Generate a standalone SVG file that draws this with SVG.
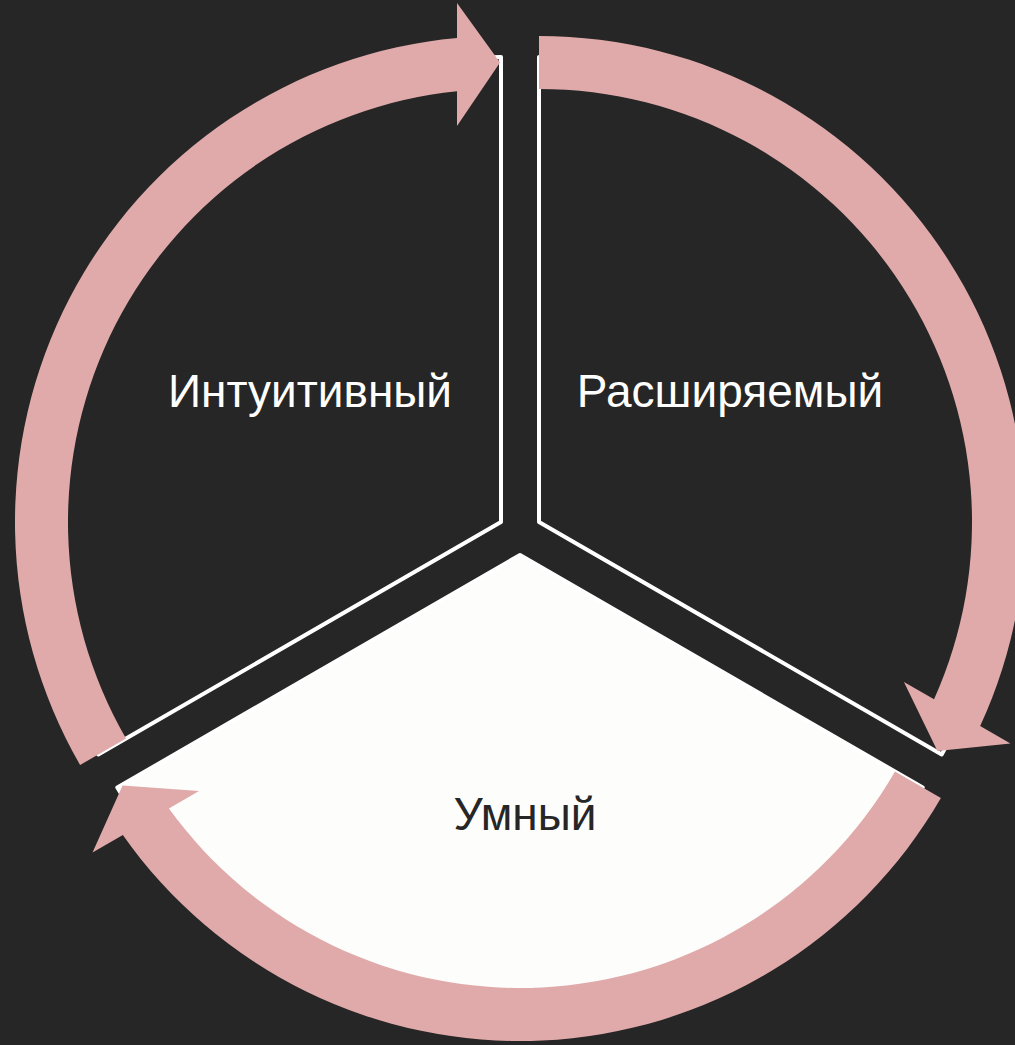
<svg xmlns="http://www.w3.org/2000/svg" width="1015" height="1045" viewBox="0 0 1015 1045">
  <defs>
    <style>
      .seg { stroke: #FFFFFF; stroke-width: 4; stroke-linejoin: round; }
      .dark { fill: #262626; }
      .light { fill: #FDFDFB; }
      .arrow { fill: #E0AAAA; }
      .label { font-family: "Liberation Sans", Arial, sans-serif; font-size: 46px; text-anchor: middle; }
    </style>
    <path id="arrowShape" d="M -375.0 216.5 L -420.9 243 A 486 486 0 0 1 -44 -484.0 L -44 -519 L -1 -459.5 L -44 -396 L -44 -430.76 A 433 433 0 0 0 -375.0 216.5 Z"/>
  </defs>
  <rect x="0" y="0" width="1015" height="1045" fill="#262626"/>

  <g id="node-intuitive">
    <path class="seg dark" d="M 501 522 L 501 57 A 465 465 0 0 0 98.3 754.5 Z"/>
    <text class="label" x="310" y="407" fill="#FFFFFF">Интуитивный</text>
  </g>
  <g id="node-extensible">
    <path class="seg dark" d="M 539 522 L 539 57 A 465 465 0 0 1 941.7 754.5 Z"/>
    <text class="label" x="730" y="407" fill="#FFFFFF">Расширяемый</text>
  </g>
  <g id="node-smart">
    <path class="seg light" d="M 520 555 L 922.7 787.5 A 465 465 0 0 1 117.3 787.5 Z"/>
    <text class="label" x="525" y="830" fill="#262626">Умный</text>
  </g>

  <g id="connectors">
    <use href="#arrowShape" class="arrow" transform="translate(501,522)"/>
    <use href="#arrowShape" class="arrow" transform="translate(539,522) rotate(120)"/>
    <use href="#arrowShape" class="arrow" transform="translate(520,555) rotate(240)"/>
  </g>
</svg>
